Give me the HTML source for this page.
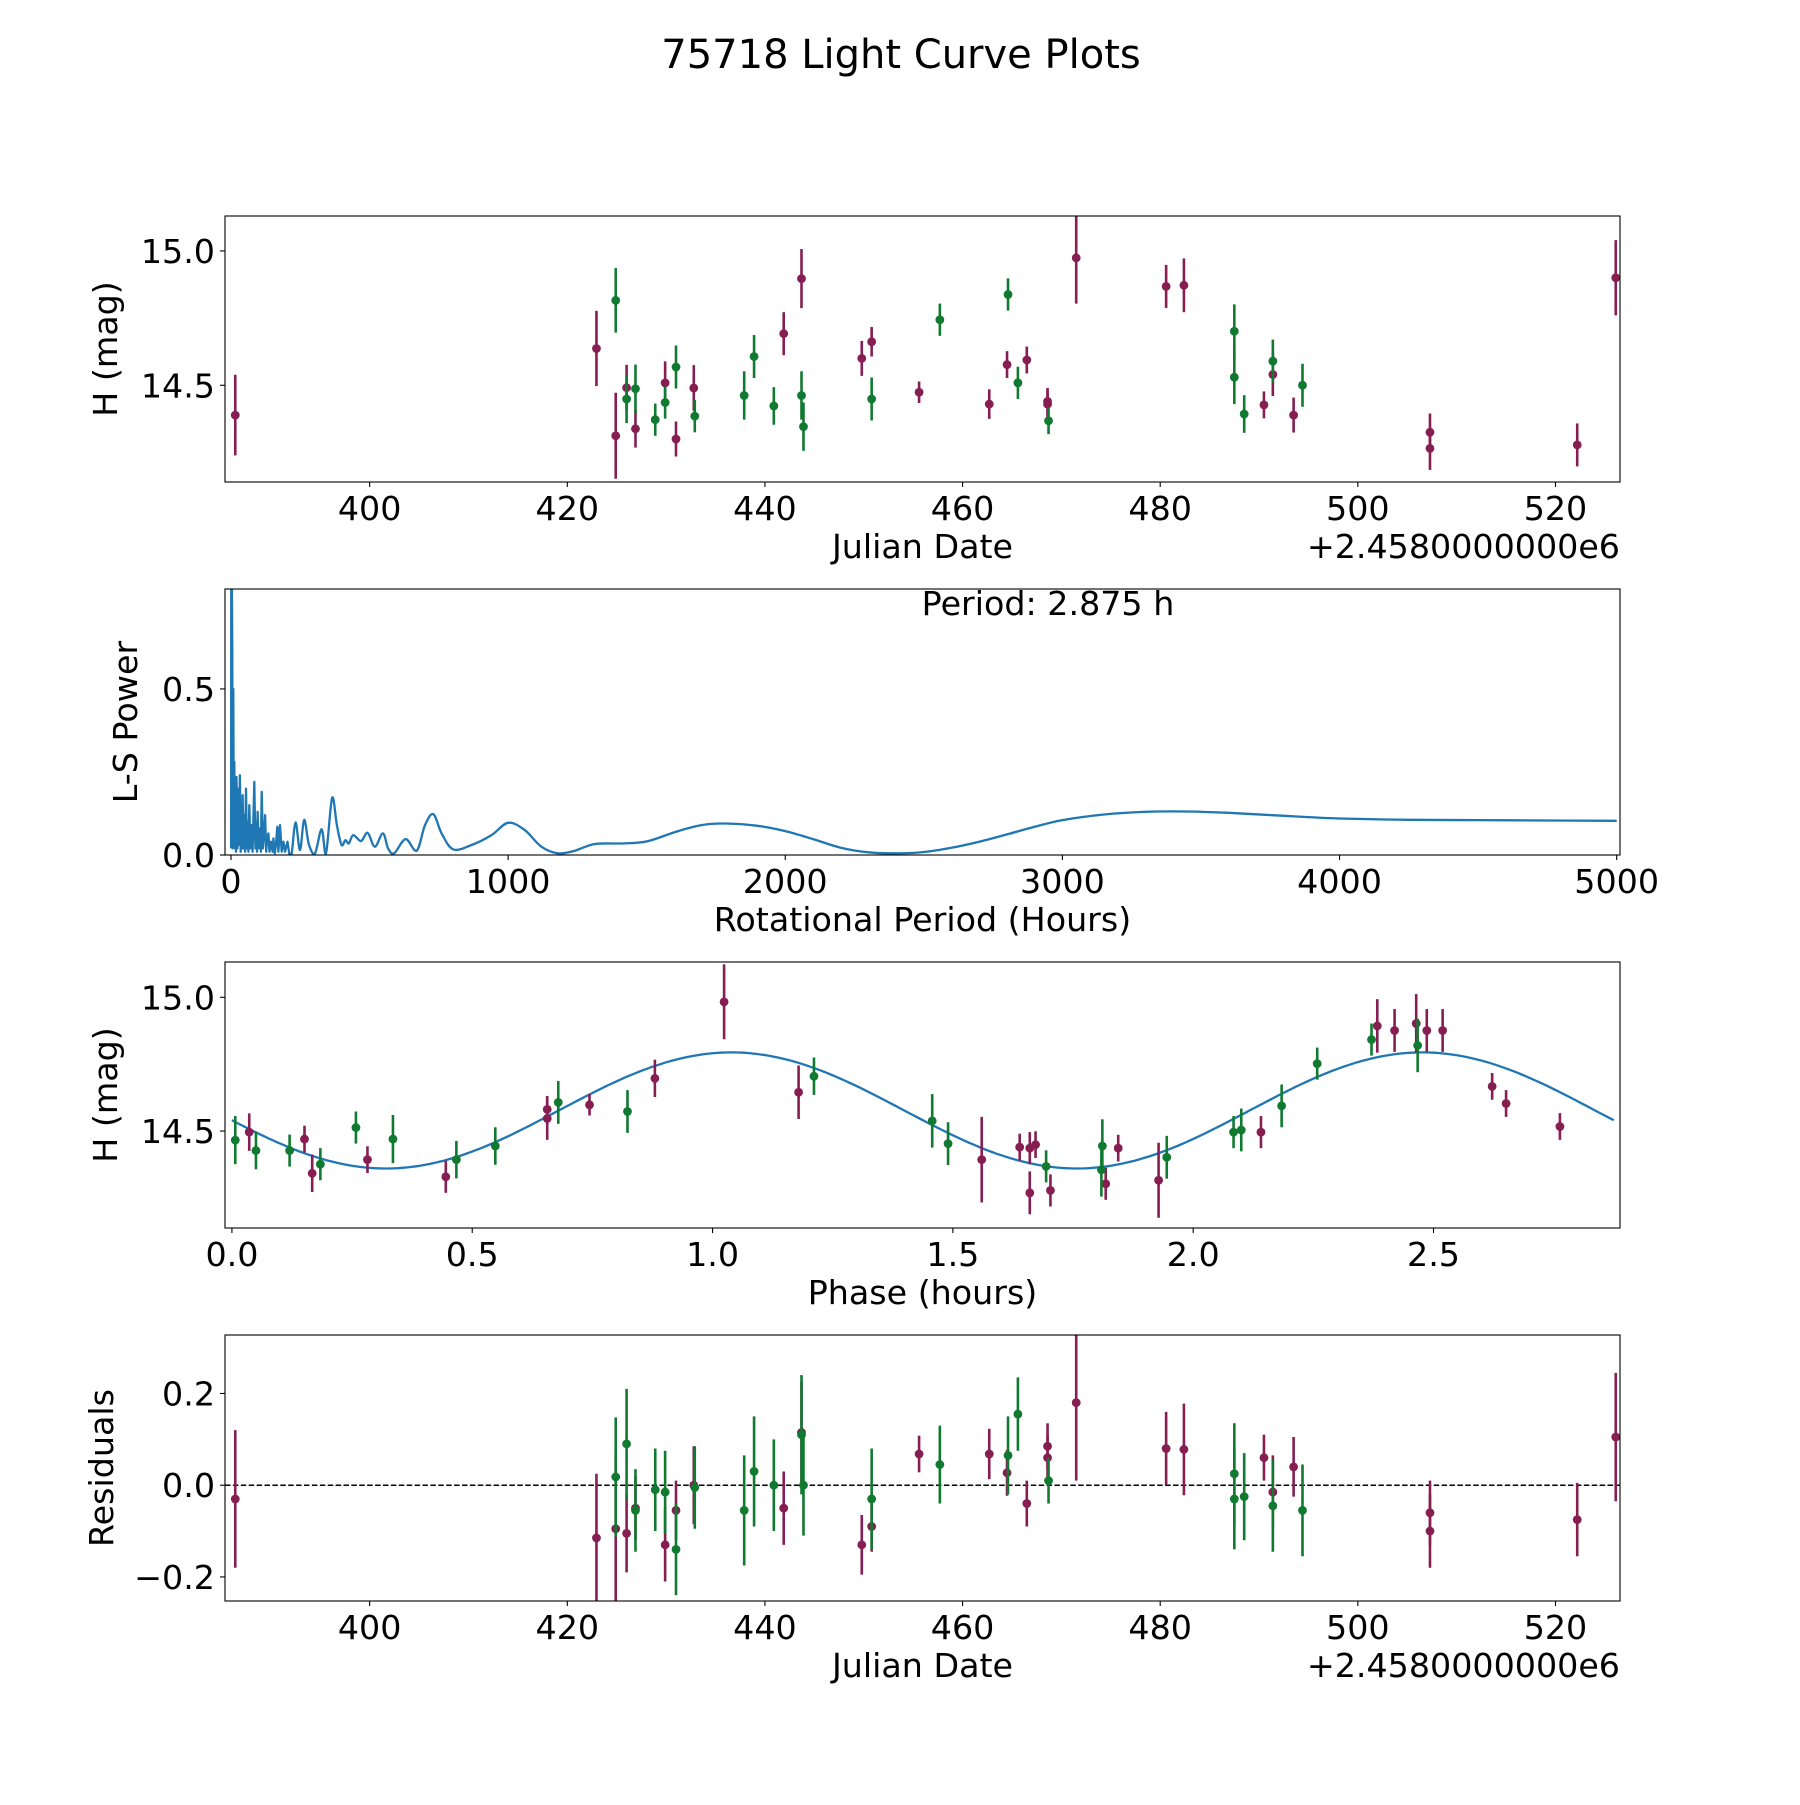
<!DOCTYPE html>
<html><head><meta charset="utf-8"><title>75718 Light Curve Plots</title>
<style>
html,body{margin:0;padding:0;background:#fff;}
svg text{font-family:"DejaVu Sans","Liberation Sans",sans-serif;fill:#000;}
</style></head>
<body>
<svg id="fig" xmlns="http://www.w3.org/2000/svg" width="1800" height="1800" viewBox="0 0 1800 1800">
<rect width="1800" height="1800" fill="#fff"/>
<text x="901" y="68" font-size="40" text-anchor="middle">75718 Light Curve Plots</text>
</svg>
<script>
// ---- Panel 1 / 4 data (Julian date offset from 2458000) ----
const magDates = [386.4,422.95,424.9,426.0,426.9,429.9,431.0,432.8,441.9,443.7,449.8,450.8,455.6,462.7,464.5,466.5,468.6,468.6,471.5,480.6,482.4,490.5,491.4,493.5,507.3,507.3,522.2,526.1];
const magH = [14.389,14.637,14.312,14.491,14.338,14.509,14.30,14.49,14.692,14.897,14.60,14.662,14.474,14.43,14.577,14.594,14.44,14.43,14.974,14.868,14.872,14.427,14.54,14.389,14.325,14.265,14.278,14.90];
const magErr = [0.15,0.14,0.16,0.085,0.07,0.08,0.065,0.085,0.08,0.11,0.065,0.055,0.04,0.055,0.05,0.05,0.05,0.05,0.17,0.08,0.1,0.05,0.08,0.065,0.07,0.08,0.08,0.14];
const magRes = [-0.03,-0.115,-0.095,-0.105,-0.05,-0.13,-0.055,0.0,-0.05,0.115,-0.13,-0.09,0.068,0.068,0.027,-0.04,0.085,0.06,0.18,0.08,0.078,0.06,-0.015,0.04,-0.06,-0.1,-0.075,0.105];
const grnDates = [424.9,426.0,426.9,428.9,429.9,431.0,432.9,437.9,438.9,440.9,443.7,443.9,450.8,457.7,464.6,465.6,468.7,487.5,487.5,488.5,491.4,494.4];
const grnH = [14.816,14.449,14.487,14.372,14.436,14.568,14.385,14.462,14.607,14.423,14.462,14.346,14.449,14.744,14.838,14.509,14.368,14.701,14.53,14.393,14.59,14.50];
const grnErr = [0.12,0.09,0.09,0.06,0.06,0.08,0.06,0.09,0.08,0.07,0.09,0.09,0.08,0.06,0.06,0.06,0.05,0.1,0.1,0.07,0.08,0.08];
const grnRes = [0.018,0.09,-0.055,-0.01,-0.015,-0.14,-0.005,-0.055,0.03,0.0,0.11,0.0,-0.03,0.045,0.065,0.155,0.01,0.025,-0.03,-0.025,-0.045,-0.055];
const grnResErr = [0.13,0.12,0.09,0.09,0.09,0.1,0.09,0.12,0.12,0.1,0.13,0.11,0.11,0.085,0.085,0.08,0.05,0.11,0.11,0.095,0.1,0.1];
const jdTicks = [400,420,440,460,480,500,520];
const hTicks = [14.5,15.0];
const resTicks = [-0.2,0.0,0.2];
// ---- Periodogram ----
const lsPeriod = [0.3,1,3,4.8,6,8.4,10,12,14,16,18,20,23,26,29,32,35,38,40,42,45,48,51,54,57,60,63,66,70,74,78,84,88,92,94,96,100,105,108,111,115,119,123,127,131,135,139,145,150,153,158,162,167,171,177,183,189,195,204,210,219,233,249,264,281,303,327,343,365,382,399,413,425,441,469,493,519,548,567,589,630,670,700,730,760,802,868,940,1000,1060,1120,1180,1241,1313,1421,1505,1613,1698,1781,1900,2000,2100,2200,2300,2400,2500,2600,2700,2800,2900,3000,3150,3300,3450,3600,3800,4000,4250,4500,4750,5000];
const lsPower = [0.02,0.95,0.85,0.6,0.02,0.5,0.03,0.28,0.02,0.22,0.01,0.235,0.02,0.2,0.03,0.24,0.01,0.15,0.02,0.18,0.02,0.12,0.01,0.2,0.02,0.1,0.01,0.15,0.02,0.09,0.01,0.22,0.02,0.1,0.01,0.13,0.02,0.08,0.01,0.19,0.02,0.06,0.12,0.01,0.05,0.065,0.01,0.04,0.01,0.05,0.005,0.03,0.085,0.01,0.09,0.01,0.04,0.01,0.04,0.005,0.005,0.098,0.015,0.106,0.032,0.005,0.078,0.005,0.172,0.09,0.03,0.045,0.035,0.06,0.042,0.067,0.025,0.065,0.02,0.005,0.048,0.013,0.09,0.123,0.065,0.017,0.03,0.06,0.097,0.075,0.025,0.005,0.013,0.033,0.035,0.042,0.072,0.09,0.095,0.088,0.072,0.048,0.022,0.008,0.005,0.009,0.022,0.04,0.062,0.085,0.105,0.122,0.13,0.131,0.127,0.118,0.11,0.106,0.105,0.104,0.103];
const lsTicksX = [0,1000,2000,3000,4000,5000];
const lsTicksY = [0.0,0.5];
const periodLabel = "Period: 2.875 h";
// ---- Phase-folded ----
const phGrn = [0.007,0.050,0.120,0.184,0.258,0.335,0.467,0.548,0.679,0.823,1.211,1.457,1.490,1.694,1.809,1.811,1.945,2.084,2.100,2.184,2.258,2.371,2.467];
const phGrnH = [14.466,14.427,14.427,14.376,14.513,14.470,14.393,14.444,14.607,14.573,14.705,14.538,14.453,14.368,14.355,14.444,14.402,14.496,14.504,14.594,14.752,14.842,14.820];
const phGrnErr = [0.09,0.07,0.06,0.06,0.06,0.09,0.07,0.07,0.08,0.08,0.07,0.1,0.08,0.06,0.1,0.1,0.08,0.06,0.08,0.08,0.06,0.06,0.1];
const phMag = [0.036,0.151,0.167,0.282,0.445,0.656,0.656,0.744,0.880,1.024,1.179,1.560,1.639,1.660,1.660,1.672,1.703,1.818,1.844,1.928,2.141,2.383,2.419,2.464,2.486,2.519,2.622,2.651,2.763];
const phMagH = [14.496,14.470,14.342,14.393,14.329,14.581,14.547,14.598,14.697,14.983,14.645,14.393,14.440,14.269,14.436,14.449,14.278,14.303,14.436,14.316,14.496,14.893,14.876,14.902,14.876,14.876,14.667,14.603,14.517];
const phMagErr = [0.07,0.05,0.07,0.05,0.06,0.05,0.08,0.04,0.07,0.14,0.1,0.16,0.05,0.08,0.06,0.05,0.06,0.06,0.05,0.14,0.06,0.1,0.08,0.11,0.08,0.08,0.05,0.05,0.05];
const fitParams = [14.577, 0.217, 1.4375, 0.68]; // mean, amplitude, period, phase offset
const phTicks = [0.0,0.5,1.0,1.5,2.0,2.5];

const NS = "http://www.w3.org/2000/svg";
const svg = document.getElementById('fig');
const MAG = "#861e52", GRN = "#107a30", BLUE = "#1f77b4";
const L = 225, R = 1620;
function mk(tag, attrs, parent) {
  const e = document.createElementNS(NS, tag);
  for (const k in attrs) e.setAttribute(k, attrs[k]);
  (parent || svg).appendChild(e);
  return e;
}
function lin(d0, d1, p0, p1) { return v => p0 + (v - d0) * (p1 - p0) / (d1 - d0); }

function makeAxes(name, top, bot, xlim, ylim) {
  const g = mk('g', {});
  
  
  const cid = 'clip-' + name;
  const cp = mk('clipPath', {id: cid}, g);
  mk('rect', {x: L, y: top, width: R - L, height: bot - top}, cp);
  const plot = mk('g', {'clip-path': 'url(#' + cid + ')'}, g);
  
  
  return {g, plot, top, bot, x: lin(xlim[0], xlim[1], L, R), y: lin(ylim[0], ylim[1], bot, top)};
}
function frame(ax) {
  const r = mk('rect', {x: L, y: ax.top, width: R - L, height: ax.bot - ax.top, fill: 'none', stroke: '#000', 'stroke-width': 1.1}, ax.g);
  
  
}
function xTicks(ax, ticks, fmt) {
  ticks.forEach(t => {
    const X = ax.x(t);
    mk('line', {x1: X, x2: X, y1: ax.bot, y2: ax.bot + 5, stroke: '#000', 'stroke-width': 1.1}, ax.g);
    const tx = mk('text', {x: X, y: ax.bot + 38, 'font-size': 33.3, 'text-anchor': 'middle'}, ax.g);
    tx.textContent = fmt(t);
    
    
  });
}
function yTicks(ax, ticks, fmt) {
  ticks.forEach(t => {
    const Y = ax.y(t);
    mk('line', {x1: L - 5, x2: L, y1: Y, y2: Y, stroke: '#000', 'stroke-width': 1.1}, ax.g);
    const tx = mk('text', {x: L - 10, y: Y + 12, 'font-size': 33.3, 'text-anchor': 'end'}, ax.g);
    tx.textContent = fmt(t);
    
    
  });
}
function xLabel(ax, s, extra) {
  const t = mk('text', {x: (L + R) / 2, y: ax.bot + 76, 'font-size': 33.3, 'text-anchor': 'middle'}, ax.g);
  t.textContent = s;
  
  
  if (extra) {
    const o = mk('text', {x: R, y: ax.bot + 76, 'font-size': 33.3, 'text-anchor': 'end'}, ax.g);
    o.textContent = extra;
    
    
  }
}
function yLabel(ax, s, xpos) {
  const cy = (ax.top + ax.bot) / 2;
  const t = mk('text', {x: xpos, y: cy, 'font-size': 33.3, 'text-anchor': 'middle', transform: 'rotate(-90 ' + xpos + ' ' + cy + ')'}, ax.g);
  t.textContent = s;
  
  
}
function errPoints(ax, xs, ys, es, color, name) {
  const g = mk('g', {}, ax.plot);
  
  
  xs.forEach((v, i) => {
    const X = ax.x(v);
    const ln = mk('line', {x1: X, x2: X, y1: ax.y(ys[i] - es[i]), y2: ax.y(ys[i] + es[i]), stroke: color, 'stroke-width': 2.6}, g);
    
    
    const c = mk('circle', {cx: X, cy: ax.y(ys[i]), r: 4.4, fill: color}, g);
    
    
  });
}
const f1 = v => v.toFixed(1);

// Panel 1
const a1 = makeAxes('raw-light-curve', 216, 482, [385.36, 526.53], [14.140, 15.130]);
errPoints(a1, magDates, magH, magErr, MAG, 'series-filter-1');
errPoints(a1, grnDates, grnH, grnErr, GRN, 'series-filter-2');
frame(a1); xTicks(a1, jdTicks, String); yTicks(a1, hTicks, f1);
xLabel(a1, 'Julian Date', '+2.4580000000e6'); yLabel(a1, 'H (mag)', 117);

// Panel 2
const a2 = makeAxes('periodogram', 589, 855, [-21.6, 5012], [0.0, 0.801]);
const P = lsPeriod.map((p, i) => [a2.x(p), a2.y(lsPower[i])]);
let d = 'M' + P[0][0].toFixed(1) + ',' + P[0][1].toFixed(1);
for (let i = 1; i < P.length; i++) {
  if (lsPeriod[i] <= 215) { d += 'L' + P[i][0].toFixed(1) + ',' + P[i][1].toFixed(1); continue; }
  const p0 = P[i - 2] || P[i - 1], p1 = P[i - 1], p2 = P[i], p3 = P[i + 1] || P[i];
  const c1x = p1[0] + (p2[0] - p0[0]) / 6, c1y = p1[1] + (p2[1] - p0[1]) / 6;
  const c2x = p2[0] - (p3[0] - p1[0]) / 6, c2y = p2[1] - (p3[1] - p1[1]) / 6;
  d += 'C' + c1x.toFixed(1) + ',' + c1y.toFixed(1) + ' ' + c2x.toFixed(1) + ',' + c2y.toFixed(1) + ' ' + p2[0].toFixed(1) + ',' + p2[1].toFixed(1);
}
const pl = mk('path', {d: d, fill: 'none', stroke: BLUE, 'stroke-width': 2.3, 'stroke-linejoin': 'round'}, a2.plot);


frame(a2); xTicks(a2, lsTicksX, String); yTicks(a2, lsTicksY, f1);
xLabel(a2, 'Rotational Period (Hours)'); yLabel(a2, 'L-S Power', 137);
const pt = mk('text', {x: 1048, y: 615, 'font-size': 33.3, 'text-anchor': 'middle'}, a2.g);
pt.textContent = periodLabel;



// Panel 3
const a3 = makeAxes('phase-folded', 962, 1228, [-0.0144, 2.888], [14.1375, 15.132]);
let fd = '';
for (let i = 0; i <= 300; i++) {
  const p = 2.875 * i / 300;
  const m = fitParams[0] + fitParams[1] * Math.sin(2 * Math.PI * (p - fitParams[3]) / fitParams[2]);
  fd += (i ? 'L' : 'M') + a3.x(p).toFixed(1) + ',' + a3.y(m).toFixed(1);
}
const fl = mk('path', {d: fd, fill: 'none', stroke: BLUE, 'stroke-width': 2.3}, a3.plot);


errPoints(a3, phMag, phMagH, phMagErr, MAG, 'phase-series-filter-1');
errPoints(a3, phGrn, phGrnH, phGrnErr, GRN, 'phase-series-filter-2');
frame(a3); xTicks(a3, phTicks, f1); yTicks(a3, hTicks, f1);
xLabel(a3, 'Phase (hours)'); yLabel(a3, 'H (mag)', 117);

// Panel 4
const a4 = makeAxes('residuals', 1335, 1601, [385.36, 526.53], [-0.2525, 0.3275]);
const zl = mk('line', {x1: L, x2: R, y1: a4.y(0), y2: a4.y(0), stroke: '#000', 'stroke-width': 1.5, 'stroke-dasharray': '5.5,2.4'}, a4.plot);


errPoints(a4, magDates, magRes, magErr, MAG, 'residual-filter-1');
errPoints(a4, grnDates, grnRes, grnResErr, GRN, 'residual-filter-2');
frame(a4); xTicks(a4, jdTicks, String);
yTicks(a4, resTicks, v => (v < 0 ? '\u2212' : '') + Math.abs(v).toFixed(1));
xLabel(a4, 'Julian Date', '+2.4580000000e6'); yLabel(a4, 'Residuals', 113);
</script>
</body></html>
